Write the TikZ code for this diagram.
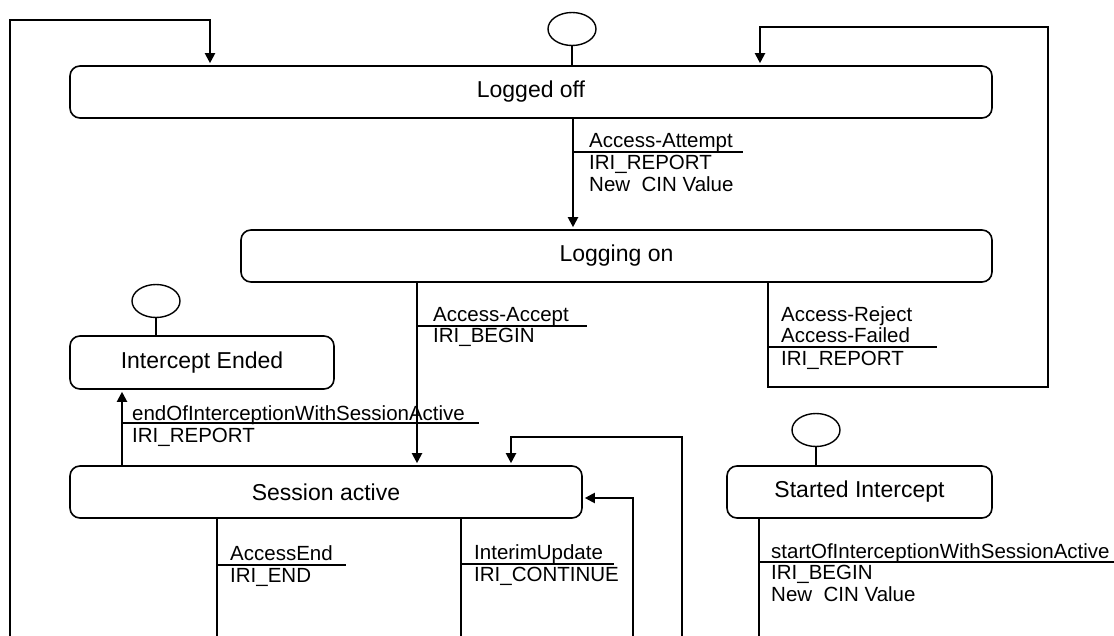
\documentclass[tikz,border=0pt]{standalone}
\usepackage{fontspec}
\setmainfont{Liberation Sans}
\usetikzlibrary{arrows.meta,shapes.geometric}
\begin{document}
\begin{tikzpicture}[x=1pt,y=-1pt,
  state/.style={draw,line width=1.6pt,rounded corners=10pt,inner sep=0pt,font=\fontsize{23pt}{26pt}\selectfont},
  init/.style={draw,ellipse,line width=1.4pt,minimum width=48pt,minimum height=33pt,inner sep=0pt},
  arr/.style={line width=2pt,-{Triangle[length=10pt,width=10pt]},shorten >=2pt},
  conn/.style={line width=2pt},
  stem/.style={line width=1.4pt},
  lab/.style={anchor=base west,inner sep=0pt,font=\fontsize{20.5pt}{22pt}\selectfont},
  uline/.style={line width=1.4pt}]
\useasboundingbox (0,0) rectangle (1114,636);

% states
\node[state,minimum width=922pt,minimum height=52pt] (lo) at (531,92) {Logged off};
\node[state,minimum width=751pt,minimum height=52pt] (lon) at (616.5,256) {Logging on};
\node[state,minimum width=264pt,minimum height=53pt] (ie) at (202,362.5) {Intercept Ended};
\node[state,minimum width=512pt,minimum height=52pt] (sa) at (326,492) {Session active};
\node[state,minimum width=265pt,minimum height=52pt] (si) at (859.5,492) {Started Intercept};

% initial / final circles
\node[init] (c1) at (572,29) {};
\node[init] (c2) at (156,301) {};
\node[init] (c3) at (816,430) {};
\draw[stem] (c1.south) -- (c1.south |- lo.north);
\draw[stem] (c2.south) -- (c2.south |- ie.north);
\draw[stem] (c3.south) -- (c3.south |- si.north);

% helper coordinates
\coordinate (xA) at (573,0);
\coordinate (xB) at (417,0);
\coordinate (xC) at (768,0);
\coordinate (xD) at (122,0);
\coordinate (xE) at (217,636);
\coordinate (xF) at (461,636);
\coordinate (xG) at (759,636);
\coordinate (L0) at (10,636);
\coordinate (L1) at (210,20);
\coordinate (R1) at (1048,387);
\coordinate (R2) at (760,27);
\coordinate (B0) at (682,636);
\coordinate (B1) at (511,437);
\coordinate (C0) at (633,636);
\coordinate (C1) at (633,498);

% transitions
\draw[arr] (lo.south -| xA) -- (xA |- lon.north);
\draw[arr] (lon.south -| xB) -- (xB |- sa.north);
\draw[arr] (lon.south -| xC) |- (R1) |- (R2) -- (R2 |- lo.north);
\draw[arr] (sa.north -| xD) -- (xD |- ie.south);
\draw[arr] (L0) |- (L1) -- (L1 |- lo.north);
\draw[arr] (B0) |- (B1) -- (B1 |- sa.north);
\draw[arr] (C0) -- (C1) -- (C1 -| sa.east);
\draw[conn] (sa.south -| xE) -- (xE);
\draw[conn] (sa.south -| xF) -- (xF);
\draw[conn] (si.south -| xG) -- (xG);

% labels
\node[lab] (la1) at (589,148) {Access-Attempt};
\node[lab] (la2) at (589,170) {IRI\_REPORT};
\node[lab] (la3) at (589,192) {New\ \ CIN Value};
\draw[uline] (573,152) -- (743,152);

\node[lab] (lb1) at (433,322) {Access-Accept};
\node[lab] (lb2) at (433,343) {IRI\_BEGIN};
\draw[uline] (417,326) -- (587,326);

\node[lab] (lc1) at (781,322) {Access-Reject};
\node[lab] (lc2) at (781,343) {Access-Failed};
\node[lab] (lc3) at (781,366) {IRI\_REPORT};
\draw[uline] (768,347) -- (937,347);

\node[lab] (ld1) at (132,420) {endOfInterceptionWithSessionActive};
\node[lab] (ld2) at (132,442) {IRI\_REPORT};
\draw[uline] (122,423) -- (479,423);

\node[lab] (le1) at (230,560) {AccessEnd};
\node[lab] (le2) at (230,582) {IRI\_END};
\draw[uline] (217,565) -- (346,565);

\node[lab] (lf1) at (474,559) {InterimUpdate};
\node[lab] (lf2) at (474,581) {IRI\_CONTINUE};
\draw[uline] (461,564) -- (614,564);

\node[lab] (lg1) at (771,558) {startOfInterceptionWithSessionActive};
\node[lab] (lg2) at (771,579) {IRI\_BEGIN};
\node[lab] (lg3) at (771,601) {New\ \ CIN Value};
\draw[uline] (759,562) -- (1114,562);
\end{tikzpicture}
\end{document}
